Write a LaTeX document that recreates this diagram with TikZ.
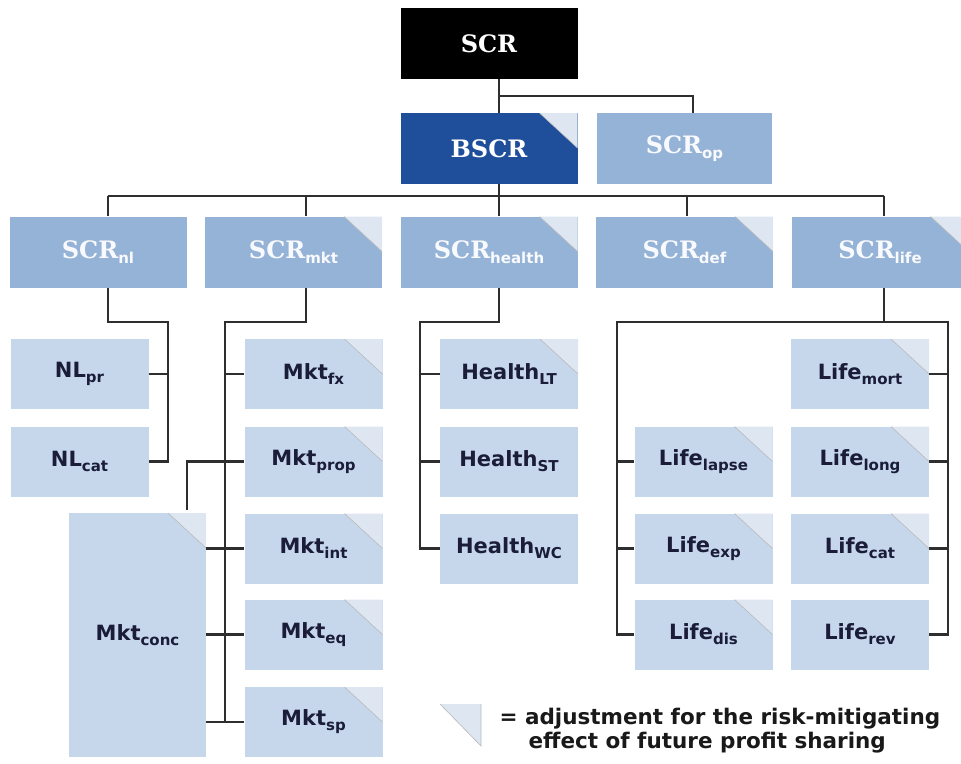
\documentclass[tikz,border=0pt]{standalone}
\usepackage{fontspec}
\setmainfont{DejaVu Sans}
\newfontfamily\scrserif{DejaVu Serif}
\definecolor{bscrblue}{HTML}{1F4E9B}
\definecolor{modblue}{HTML}{95B3D7}
\definecolor{riskblue}{HTML}{C6D7EC}
\definecolor{adjfill}{HTML}{DDE6F1}
\definecolor{risktext}{HTML}{1A1C38}
\definecolor{linkgray}{HTML}{2E2E2E}
\newcommand{\lowsub}[1]{\raisebox{-5pt}{\normalfont\fontsize{15}{15}\selectfont\bfseries #1}}
\newcommand{\scrtitle}[1]{{\scrserif\bfseries\fontsize{24}{26}\selectfont #1}}
\newcommand{\scrname}[1]{\scrtitle{SCR}\lowsub{#1}}
\tikzset{
  scrbox/.style={rectangle, minimum width=177pt, minimum height=71pt,
                 inner sep=0pt, text=white},
  scrtop/.style={scrbox, fill=black},
  scrbase/.style={scrbox, fill=bscrblue},
  scrmodule/.style={scrbox, fill=modblue, text=white!94!modblue},
  riskbox/.style={rectangle, minimum width=138pt, minimum height=70pt,
                  inner sep=0pt, fill=riskblue, text=risktext,
                  font=\fontsize{21}{24}\selectfont\bfseries},
  adjedge/.style={draw=gray!55, line width=0.6pt},
  adj/.style={path picture={
      \fill[adjfill] ([xshift=-38pt]path picture bounding box.north east)
        -- (path picture bounding box.north east)
        -- ([yshift=-35pt]path picture bounding box.north east) -- cycle;
      \draw[adjedge] ([xshift=-38pt]path picture bounding box.north east)
        -- ([yshift=-35pt]path picture bounding box.north east);}},
  noadj/.style={},
  link/.style={draw=linkgray, line width=2.1pt},
  legendtext/.style={align=left, text=black!90,
                     font=\fontsize{21.5}{24}\selectfont\bfseries}
}

\begin{document}
\begin{tikzpicture}[x=1pt, y=-1pt]
  \useasboundingbox (0,0) rectangle (961,763);
  \clip (0,0) rectangle (961,763);
  % SCR on top, split into the basic SCR and the operational risk.
  \node[scrtop] (scr) at (489,43.5) {\scrtitle{SCR}};
  \node[scrbase, adj] (bscr) at (489,148.5) {\scrtitle{BSCR}};
  \node[scrmodule, minimum width=175pt] (scrop) at (684.5,148.5) {\scrname{op}};
  % The five modules of the BSCR; the last one runs off the page.
  \foreach \n/\s/\x/\st in {scrnl/nl/98/noadj, scrmkt/mkt/293.5/adj,
      scrhealth/health/489/adj, scrdef/def/684.5/adj, scrlife/life/880/adj} {
    \node[scrmodule, \st] (\n) at (\x,252) {\scrname{\s}};
  }
  % Sub-modules, one column per module.
  \foreach \n/\s/\y in {nlpr/pr/374, nlcat/cat/461.5} {
    \node[riskbox] (\n) at (79.5,\y) {NL\lowsub{\s}};
  }
  \foreach \n/\s/\y in {mktfx/fx/374, mktprop/prop/461.5, mktint/int/548.5,
      mkteq/eq/634.5, mktsp/sp/722} {
    \node[riskbox, adj] (\n) at (313.5,\y) {Mkt\lowsub{\s}};
  }
  \node[riskbox, adj, minimum width=137pt, minimum height=244pt]
    (mktconc) at (137.5,635) {Mkt\lowsub{conc}};
  \foreach \n/\s/\y/\st in {hlt/LT/374/adj, hst/ST/461.5/noadj,
      hwc/WC/548.5/noadj} {
    \node[riskbox, \st] (\n) at (509,\y) {Health\lowsub{\s}};
  }
  \foreach \n/\s/\y in {lifelapse/lapse/461.5, lifeexp/exp/548.5,
      lifedis/dis/634.5} {
    \node[riskbox, adj] (\n) at (703.5,\y) {Life\lowsub{\s}};
  }
  \foreach \n/\s/\y/\st in {lifemort/mort/374/adj, lifelong/long/461.5/adj,
      lifecat/cat/548.5/adj, liferev/rev/634.5/noadj} {
    \node[riskbox, \st] (\n) at (860,\y) {Life\lowsub{\s}};
  }
  % Upper connectors.
  \draw[link] (scr.south -| 499,0) -- (bscr.north -| 499,0);
  \draw[link] (499,96) -| (scrop.north -| 693,0);
  \draw[link] (bscr.south -| 499,0) -- (499,196);
  \draw[link] (108,196) -- (884,196);
  \foreach \n/\x in {scrnl/108, scrmkt/306, scrhealth/499, scrdef/687,
      scrlife/884} {
    \draw[link] (\x,196) -- (\n.north -| \x,0);
  }
  % Non-life.
  \draw[link] (scrnl.south -| 108,0) -- (108,322) -| (168,461.5) -- (nlcat.east);
  \draw[link] (nlpr.east) -- (168,374);
  % Market, with concentration tied to the four sub-modules below fx.
  \draw[link] (scrmkt.south -| 306,0) -- (306,322) -| (225,722) -- (mktsp.west);
  \foreach \n in {mktfx, mktprop, mktint, mkteq} {
    \draw[link] (225,0 |- \n.west) -- (\n.west);
  }
  \draw[link] (187,510) -- (187,461.5) -- (mktprop.west);
  \foreach \n in {mktint, mkteq, mktsp} {
    \draw[link] (mktconc.east |- \n.west) -- (\n.west);
  }
  % Health.
  \draw[link] (scrhealth.south -| 499,0) -- (499,322) -| (420,548.5) -- (hwc.west);
  \foreach \n in {hlt, hst} {
    \draw[link] (420,0 |- \n.west) -- (\n.west);
  }
  % Life, fed from both sides.
  \draw[link] (scrlife.south -| 884,0) -- (884,322);
  \draw[link] (lifedis.west) -| (617,322) -| (948,634.5) -- (liferev.east);
  \foreach \n in {lifelapse, lifeexp} {
    \draw[link] (617,0 |- \n.west) -- (\n.west);
  }
  \foreach \n in {lifemort, lifelong, lifecat} {
    \draw[link] (948,0 |- \n.east) -- (\n.east);
  }
  % Legend.
  \fill[adjfill] (440,704) -- (481,704) -- (481,746) -- cycle;
  \draw[adjedge] (440,704) -- (481,746) -- (481,704);
  \node[legendtext, anchor=west] (legend) at (496,731)
    {= adjustment for the risk-mitigating\\\hspace*{29pt}effect of future profit sharing};
\end{tikzpicture}
\end{document}
